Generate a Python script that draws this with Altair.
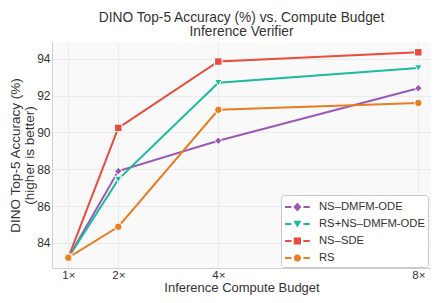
import altair as alt
import pandas as pd

budget = [1, 2, 4, 8]
series_names = ["NS–DMFM-ODE", "RS+NS–DMFM-ODE", "NS–SDE", "RS"]
ns_dmfm_ode = [83.2, 87.9, 89.55, 92.4]
rs_ns_dmfm_ode = [83.2, 87.45, 92.7, 93.5]
ns_sde = [83.2, 90.25, 93.85, 94.35]
rs = [83.2, 84.88, 91.23, 91.6]
y_ticks = [84, 86, 88, 90, 92, 94]

colors = ["#9b59b6", "#1abc9c", "#e74c3c", "#e67e22"]
shapes = ["diamond", "triangle-down", "square", "circle"]
FONT = "Liberation Sans"

# legend glyphs: line segment + marker (custom SVG paths, unit = 8px)
def seg(x0, x1, h=0.125):
    return f"M{x0},{-h}H{x1}V{h}H{x0}Z"

cx = 0.55
left = seg(-1, cx - 0.75)
right = seg(cx + 0.75, 2.1)
legend_paths = [
    left + right + f"M{cx},-0.55L{cx+0.5},0L{cx},0.55L{cx-0.5},0Z",
    left + right + f"M{cx-0.5},-0.4H{cx+0.5}L{cx},0.45Z",
    left + right + f"M{cx-0.45},-0.45H{cx+0.45}V0.45H{cx-0.45}Z",
    left + right + f"M{cx-0.45},0A0.45,0.45 0 1,0 {cx+0.45},0A0.45,0.45 0 1,0 {cx-0.45},0Z",
]

rows = []
for name, vals in zip(series_names, [ns_dmfm_ode, rs_ns_dmfm_ode, ns_sde, rs]):
    for b, v in zip(budget, vals):
        rows.append({"budget": b, "acc": v, "series": name})
df = pd.DataFrame(rows)

x_enc = alt.X(
    "budget:Q",
    scale=alt.Scale(domain=[0.674, 8.254], nice=False, zero=False),
    axis=alt.Axis(values=budget, labelExpr="datum.value + '×'",
                  title="Inference Compute Budget", grid=True, ticks=False,
                  labelFontSize=11.5, labelPadding=1, titlePadding=0.5, titleFontSize=13),
)
y_enc = alt.Y(
    "acc:Q",
    scale=alt.Scale(domain=[82.64, 94.91], nice=False, zero=False),
    axis=alt.Axis(values=y_ticks, title=["DINO Top-5 Accuracy (%)", "(higher is better)"],
                  grid=True, ticks=False, labelFontSize=12, labelPadding=2, titlePadding=0,
                  titleFontSize=13.5, titleLineHeight=14),
)
color_enc = alt.Color("series:N", scale=alt.Scale(domain=series_names, range=colors), legend=None)

base = alt.Chart(df)

lines = base.mark_line(strokeWidth=2).encode(x=x_enc, y=y_enc, color=color_enc)

points = base.mark_point(filled=True, size=55, stroke="white", strokeWidth=1, opacity=1).encode(
    x=x_enc, y=y_enc, color=color_enc,
    shape=alt.Shape("series:N", scale=alt.Scale(domain=series_names, range=shapes), legend=None),
)

legend_layer = base.mark_point(filled=True, size=256, opacity=1, clip=True).encode(
    x=alt.value(-200), y=alt.value(-200),
    color=alt.Color("series:N", scale=alt.Scale(domain=series_names, range=colors),
                    legend=alt.Legend(title=None)),
    shape=alt.Shape("series:N", scale=alt.Scale(domain=series_names, range=legend_paths),
                    legend=alt.Legend(title=None)),
)

chart = (
    alt.layer(lines, points, legend_layer)
    .resolve_scale(shape="independent")
    .resolve_legend(color="independent", shape="independent")
    .properties(
        width=379, height=226, autosize="none",
        padding={"left": 44, "top": 34, "right": 0, "bottom": 27},
        title=alt.Title(["DINO Top-5 Accuracy (%) vs. Compute Budget", "Inference Verifier"],
                        fontSize=13.75, fontWeight="normal", font=FONT, color="#333333",
                        anchor="middle", offset=3, lineHeight=14),
    )
    .configure_view(fill="#f9f9f9", stroke=None)
    .configure_axis(labelFont=FONT, labelColor="#333333",
                    titleFont=FONT, titleFontWeight="normal",
                    titleColor="#333333", gridColor="#ebebeb", domainColor="#d0d0d0")
    .configure_legend(orient="none", legendX=229, legendY=153, fillColor="white",
                      strokeColor="#c8c8c8", cornerRadius=3, padding=3,
                      symbolSize=256, labelOffset=17, rowPadding=2,
                      labelFont=FONT, labelFontSize=11.25, labelColor="#333333")
)

chart.save("out.html", embed_options={"renderer": "svg", "actions": False})
